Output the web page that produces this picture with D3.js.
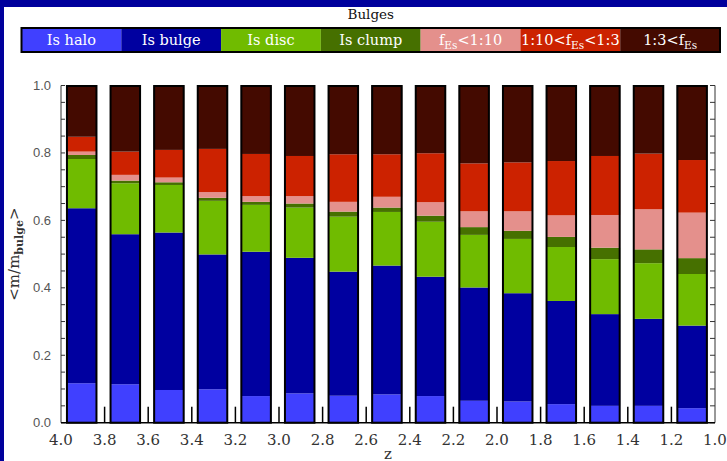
<!DOCTYPE html>
<html>
<head>
<meta charset="utf-8">
<script src="https://cdn.jsdelivr.net/npm/d3@7"></script>
<style>
  html, body { margin: 0; padding: 0; background: #00009c; }
  svg { display: block; }
</style>
</head>
<body>
<svg id="chart" width="727" height="461"></svg>
<script>
// Redshift bins (upper edge of each 0.2-wide bin)
const zBins = [4.0, 3.8, 3.6, 3.4, 3.2, 3.0, 2.8, 2.6, 2.4, 2.2, 2.0, 1.8, 1.6, 1.4, 1.2];

// Mean mass fraction of the bulge by origin, per bin (each column sums to 1)
const isHalo   = [0.117, 0.114, 0.097, 0.099, 0.079, 0.087, 0.080, 0.084, 0.079, 0.065, 0.063, 0.055, 0.050, 0.050, 0.043];
const isBulge  = [0.519, 0.445, 0.467, 0.400, 0.428, 0.402, 0.368, 0.382, 0.354, 0.336, 0.321, 0.306, 0.272, 0.258, 0.245];
const isDisc   = [0.146, 0.151, 0.141, 0.159, 0.139, 0.149, 0.163, 0.159, 0.163, 0.156, 0.161, 0.160, 0.163, 0.165, 0.153];
const isClump  = [0.012, 0.008, 0.008, 0.009, 0.009, 0.012, 0.015, 0.013, 0.018, 0.023, 0.024, 0.030, 0.034, 0.041, 0.047];
const esMinor  = [0.010, 0.017, 0.014, 0.017, 0.017, 0.022, 0.029, 0.032, 0.040, 0.047, 0.058, 0.064, 0.097, 0.119, 0.135];
const esMid    = [0.044, 0.069, 0.082, 0.128, 0.125, 0.119, 0.141, 0.126, 0.145, 0.142, 0.145, 0.161, 0.175, 0.165, 0.156];
const esMajor  = [0.152, 0.196, 0.191, 0.188, 0.203, 0.209, 0.204, 0.204, 0.201, 0.231, 0.228, 0.224, 0.209, 0.202, 0.221];

const xTicks = [4.0, 3.8, 3.6, 3.4, 3.2, 3.0, 2.8, 2.6, 2.4, 2.2, 2.0, 1.8, 1.6, 1.4, 1.2, 1.0];
const yTicks = [0.0, 0.2, 0.4, 0.6, 0.8, 1.0];

const series = [
  { key: "halo",  values: isHalo,  color: "#4040ff", label: [["Is halo"]] },
  { key: "bulge", values: isBulge, color: "#0000a0", label: [["Is bulge"]] },
  { key: "disc",  values: isDisc,  color: "#70bb00", label: [["Is disc"]] },
  { key: "clump", values: isClump, color: "#467000", label: [["Is clump"]] },
  { key: "minor", values: esMinor, color: "#e4908c", label: [["f"], ["Es", "sub"], ["<1:10"]] },
  { key: "mid",   values: esMid,   color: "#cc2200", label: [["1:10<f"], ["Es", "sub"], ["<1:3"]] },
  { key: "major", values: esMajor, color: "#440a00", label: [["1:3<f"], ["Es", "sub"]] }
];

const svg = d3.select("#chart");
const W = 727, H = 461;

// white panel inside the blue frame
svg.append("rect").attr("x", 4).attr("y", 7).attr("width", W - 4).attr("height", H - 7).attr("fill", "#ffffff");

const x = d3.scaleLinear().domain([4, 1]).range([61, 715]);
const y = d3.scaleLinear().domain([0, 1]).range([422.7, 85.5]);

// ---- legend ----
const legX = 21.5, legY = 28, legW = 698.5, legH = 24;
const cellW = legW / series.length;
svg.append("text")
  .attr("x", legX + legW / 2).attr("y", 19)
  .attr("text-anchor", "middle")
  .attr("font-family", "DejaVu Serif")
  .attr("font-size", 13.5)
  .attr("fill", "#111")
  .text("Bulges");

const leg = svg.append("g");
series.forEach((s, i) => {
  leg.append("rect")
    .attr("x", legX + i * cellW).attr("y", legY)
    .attr("width", cellW).attr("height", legH)
    .attr("fill", s.color);
  const t = leg.append("text")
    .attr("x", legX + i * cellW + cellW / 2).attr("y", legY + 17)
    .attr("text-anchor", "middle")
    .attr("font-family", "DejaVu Serif")
    .attr("font-size", 14.5)
    .attr("fill", "#ffffff");
  s.label.forEach(part => {
    const ts = t.append("tspan").text(part[0]);
    if (part[1] === "sub") ts.attr("font-size", 10.5).attr("dy", 4);
    else if (t.selectAll("tspan").size() > 1) ts.attr("dy", -4);
  });
});
leg.append("rect")
  .attr("x", legX).attr("y", legY).attr("width", legW).attr("height", legH)
  .attr("fill", "none").attr("stroke", "#000").attr("stroke-width", 2);

// ---- axes ticks ----
const axisG = svg.append("g").attr("stroke", "#333").attr("stroke-width", 1);
const yMinor = d3.range(0, 21).map(d => d * 0.05);
yMinor.forEach(v => {
  axisG.append("line").attr("x1", x(4)).attr("x2", x(4) + 4).attr("y1", y(v)).attr("y2", y(v));
  axisG.append("line").attr("x1", x(1)).attr("x2", x(1) - 5).attr("y1", y(v)).attr("y2", y(v));
});
xTicks.slice(1, -1).forEach(v => {
  axisG.append("line").attr("x1", x(v)).attr("x2", x(v)).attr("y1", y(0)).attr("y2", y(0) - 16)
    .attr("stroke", "#000").attr("stroke-width", 1.5);
});
axisG.append("line").attr("x1", x(4)).attr("x2", x(4)).attr("y1", y(0)).attr("y2", y(1));
axisG.append("line").attr("x1", x(1)).attr("x2", x(1)).attr("y1", y(0)).attr("y2", y(1));

// ---- stacked bars ----
const table = zBins.map((z, i) => {
  const row = { z };
  series.forEach(s => { row[s.key] = s.values[i]; });
  return row;
});
const stacked = d3.stack().keys(series.map(s => s.key))(table);

const bars = svg.append("g");
stacked.forEach((layer, li) => {
  bars.append("g").attr("fill", series[li].color)
    .selectAll("rect").data(layer).join("rect")
    .attr("x", d => x(d.data.z - 0.025))
    .attr("width", d => x(d.data.z - 0.165) - x(d.data.z - 0.025))
    .attr("y", d => y(d[1]))
    .attr("height", d => y(d[0]) - y(d[1]));
});
// black outline around each column
bars.append("g").selectAll("rect").data(table).join("rect")
  .attr("x", d => x(d.z - 0.025) + 0.5)
  .attr("width", d => x(d.z - 0.165) - x(d.z - 0.025) - 1)
  .attr("y", y(1) + 0.5)
  .attr("height", y(0) - y(1) - 0.5)
  .attr("fill", "none").attr("stroke", "#000").attr("stroke-width", 2);

// bottom axis line
svg.append("line").attr("x1", x(4)).attr("x2", x(1)).attr("y1", y(0)).attr("y2", y(0))
  .attr("stroke", "#000").attr("stroke-width", 1.5);

// ---- tick labels ----
svg.append("g").selectAll("text").data(yTicks).join("text")
  .attr("x", 51).attr("y", d => y(d) + 4.5)
  .attr("text-anchor", "end")
  .attr("font-family", "Liberation Sans")
  .attr("font-size", 13)
  .attr("fill", "#555")
  .text(d => d.toFixed(1));

svg.append("g").selectAll("text").data(xTicks).join("text")
  .attr("x", d => x(d)).attr("y", 445)
  .attr("text-anchor", "middle")
  .attr("font-family", "DejaVu Serif")
  .attr("font-size", 15)
  .attr("fill", "#333")
  .text(d => d.toFixed(1));

// ---- axis titles ----
svg.append("text")
  .attr("x", (x(4) + x(1)) / 2).attr("y", 458.5)
  .attr("text-anchor", "middle")
  .attr("font-family", "DejaVu Serif")
  .attr("font-size", 15)
  .attr("fill", "#333")
  .text("z");

const yTitle = svg.append("text")
  .attr("transform", `translate(19,${(y(0) + y(1)) / 2}) rotate(-90)`)
  .attr("text-anchor", "middle")
  .attr("font-family", "DejaVu Serif")
  .attr("font-size", 15)
  .attr("fill", "#333");
yTitle.append("tspan").text("<m/m");
yTitle.append("tspan").attr("font-size", 11).attr("font-weight", "bold").attr("dy", 4).text("bulge");
yTitle.append("tspan").attr("dy", -4).text(">");
</script>
</body>
</html>
